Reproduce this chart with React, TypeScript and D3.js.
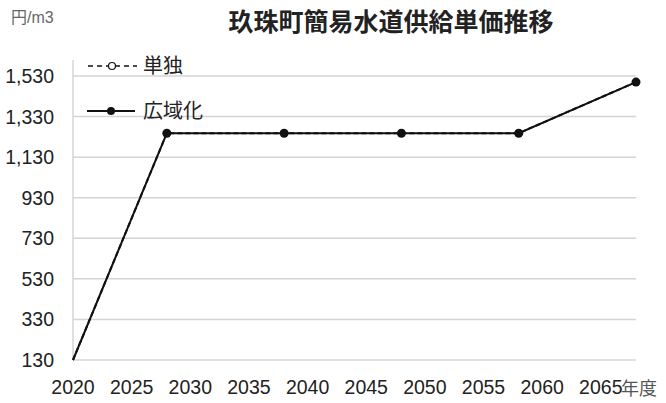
import React from "react";
import * as d3 from "d3";

const years = [2020, 2028, 2038, 2048, 2058, 2068];
const tandoku = [130, 1248, 1248, 1248, 1248, 1500];
const kouiki = [130, 1248, 1248, 1248, 1248, 1500];
const yTicks = [130, 330, 530, 730, 930, 1130, 1330, 1530];
const xTicks = [2020, 2025, 2030, 2035, 2040, 2045, 2050, 2055, 2060, 2065];
const title = "玖珠町簡易水道供給単価推移";
const yUnit = "円/m3";
const xUnit = "年度";
const seriesNames = ["単独", "広域化"];

export default function App() {
  const W = 666, H = 403;
  const left = 73, right = 636, top = 76, bottom = 360;
  const x = d3.scaleLinear().domain([2020, 2068]).range([left, right]);
  const y = d3.scaleLinear().domain([130, 1530]).range([bottom, top]);
  const fmt = d3.format(",");
  const line = d3.line<number>().x((_, i) => x(years[i])).y((d) => y(d));
  const font = "Arial, 'Liberation Sans', 'Noto Sans CJK JP', sans-serif";
  const jp = "'Noto Sans CJK JP', sans-serif";
  return (
    <svg width={W} height={H} style={{ position: "absolute", left: 0, top: 0, background: "#fff" }}>
      <rect width={W} height={H} fill="#fff" />
      {yTicks.map((t) => (
        <line key={t} x1={left} x2={right} y1={y(t)} y2={y(t)} stroke="#d4d4d4" strokeWidth={1.5} />
      ))}
      <line x1={left} x2={left} y1={top - 16} y2={bottom} stroke="#d4d4d4" strokeWidth={1.5} />
      {yTicks.map((t) => (
        <text key={t} x={54} y={y(t)} dy="0.36em" textAnchor="end" fontFamily={font} fontSize={19.5} fill="#222">
          {fmt(t)}
        </text>
      ))}
      {xTicks.map((t) => (
        <text key={t} x={x(t)} y={394} textAnchor="middle" fontFamily={font} fontSize={19.5} fill="#222">
          {t}
        </text>
      ))}
      <text x={621} y={395} fontFamily={jp} fontSize={18} fill="#555">{xUnit}</text>
      <text x={11} y={23} fontFamily={font} fontSize={16} fill="#666">{yUnit}</text>
      <text x={391} y={31} textAnchor="middle" fontFamily={jp} fontWeight="bold" fontSize={25} fill="#222">{title}</text>

      <path d={line(kouiki) || ""} fill="none" stroke="#111" strokeWidth={2} />
      <path d={line(tandoku) || ""} fill="none" stroke="#111" strokeWidth={2} strokeDasharray="5,3" />
      {kouiki.map((v, i) => i > 0 && (
        <circle key={i} cx={x(years[i])} cy={y(v)} r={4.5} fill="#111" />
      ))}

      {/* legend */}
      <line x1={88} x2={137} y1={66} y2={66} stroke="#111" strokeWidth={1.5} strokeDasharray="5,4" />
      <circle cx={112} cy={66} r={3.5} fill="#fff" stroke="#111" strokeWidth={1.2} />
      <text x={143} y={66} dy="0.36em" fontFamily={jp} fontSize={20} fill="#222">{seriesNames[0]}</text>
      <line x1={87} x2={135} y1={111} y2={111} stroke="#111" strokeWidth={2} />
      <circle cx={111} cy={111} r={4} fill="#111" />
      <text x={143} y={111} dy="0.36em" fontFamily={jp} fontSize={20} fill="#222">{seriesNames[1]}</text>
    </svg>
  );
}
